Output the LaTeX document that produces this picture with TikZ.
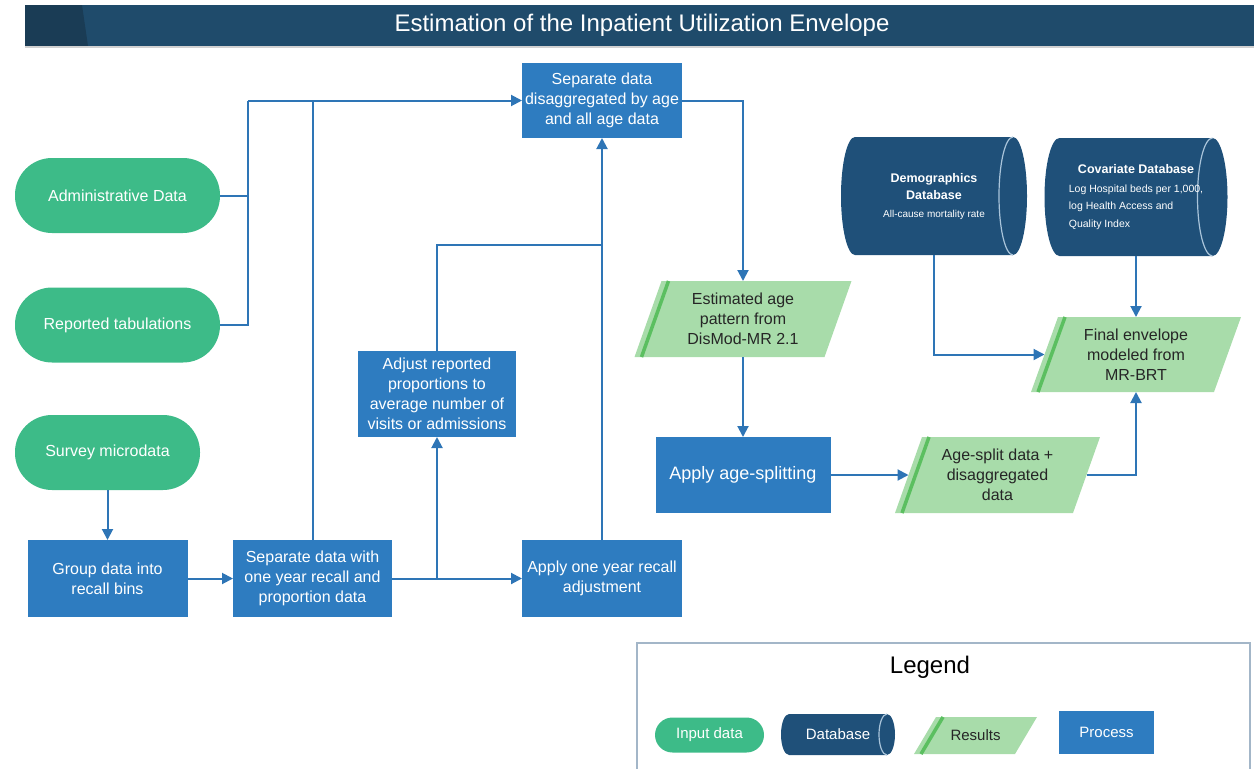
\documentclass[tikz,border=0pt]{standalone}
\usepackage{fontspec}
\setmainfont{Liberation Sans}
\usetikzlibrary{arrows.meta,calc,backgrounds}
\definecolor{navy}{HTML}{1F4B6B}
\definecolor{navyD}{HTML}{1A3C55}
\definecolor{ingreen}{HTML}{3DBB88}
\definecolor{procblue}{HTML}{2E7CC0}
\definecolor{resgreen}{HTML}{A8DCAA}
\definecolor{stripecol}{HTML}{5BBF60}
\definecolor{dbblue}{HTML}{1F5079}
\definecolor{dbline}{HTML}{A9C4DA}
\definecolor{linkblue}{HTML}{2E75B6}
\definecolor{legline}{HTML}{A3B6C8}
\definecolor{restext}{HTML}{262626}

\newcommand\dbshape[3]{%
  \fill[dbblue] (#1.north west) arc[start angle=90,end angle=270,x radius=#2pt,y radius=#3pt]
    -- (#1.south east) arc[start angle=-90,end angle=90,x radius=#2pt,y radius=#3pt] -- cycle;
  \draw[dbline,line width=1.2pt] (#1.north east) arc[start angle=90,end angle=270,x radius=#2pt,y radius=#3pt];}
\newcommand\resshape[2]{%
  \fill[resgreen] ($(#1.south west)+(-#2,0)$) -- ($(#1.south east)+(-#2,0)$)
    -- ($(#1.north east)+(#2,0)$) -- ($(#1.north west)+(#2,0)$) -- cycle;
  \draw[stripecol,line width=3.5pt] ($(#1.south west)+(-#2+7,0)$) -- ($(#1.north west)+(#2+7,0)$);}
\newcommand\dbtitle{\bfseries\fontsize{12.5}{18}\selectfont}
\newcommand\dbsmall{\fontsize{10}{15}\selectfont}
\newcommand\dbbody{\fontsize{10.5}{16}\selectfont}

\begin{document}
\begin{tikzpicture}[x=1pt,y=-1pt,
  every node/.style={inner sep=0pt,outer sep=0pt},
  inbox/.style={fill=ingreen,text=white,rounded corners=37pt,align=center,font=\fontsize{16}{20}\selectfont},
  proc/.style={fill=procblue,text=white,align=center,font=\fontsize{16}{20}\selectfont},
  resbox/.style={text=restext,align=center,font=\fontsize{16}{20}\selectfont},
  dbtext/.style={text=white},
  link/.style={draw=linkblue,line width=2pt},
  arr/.style={link,-{Triangle[length=11pt,width=11pt]}}]
\useasboundingbox (0,0) rectangle (1254,769);

% title bar
\fill[navy] (25,5) rectangle (1254,46);
\fill[navyD] (25,5) -- (82,5) -- (88,46) -- (25,46) -- cycle;
\fill[black!18] (25,46) rectangle (1254,48);
\node[text=white,font=\fontsize{24}{28}\selectfont] (title) at (642,25) {Estimation of the Inpatient Utilization Envelope};

% input data
\node[inbox,minimum width=205pt,minimum height=75pt] (admin) at (117.5,195.5) {Administrative Data};
\node[inbox,minimum width=205pt,minimum height=75pt] (rep) at (117.5,325) {Reported tabulations};
\node[inbox,minimum width=185pt,minimum height=75pt] (survey) at (107.5,452.5) {Survey microdata};

% processes
\node[proc,minimum width=160pt,minimum height=77pt] (group) at (107.5,578.5) {Group data into\\recall bins};
\node[proc,minimum width=159pt,minimum height=77pt] (sep1) at (312.5,578.5) {Separate data with\\one year recall and\\proportion data};
\node[proc,minimum width=160pt,minimum height=77pt] (apply1) at (602,578.5) {Apply one year recall\\adjustment};
\node[proc,minimum width=158pt,minimum height=86pt] (adjust) at (437,394) {Adjust reported\\proportions to\\average number of\\visits or admissions};
\node[proc,minimum width=160pt,minimum height=75pt] (sepdis) at (602,100.5) {Separate data\\disaggregated by age\\and all age data};
\node[proc,minimum width=175pt,minimum height=76pt,font=\fontsize{18}{22}\selectfont] (split) at (743,475) {Apply age-splitting};

% results
\node[resbox,minimum width=190pt,minimum height=76pt] (est) at (743,319) {Estimated age\\pattern from\\DisMod-MR 2.1};
\node[resbox,minimum width=178pt,minimum height=76pt] (agesplit) at (997.5,475) {Age-split data +\\disaggregated\\data};
\node[resbox,minimum width=183pt,minimum height=75pt] (final) at (1136,354.5) {Final envelope\\modeled from\\MR-BRT};

% databases
\node[dbtext,minimum width=158pt,minimum height=118pt] (demo) at (934,196)
  {\fontsize{10}{17.5}\selectfont\begin{tabular}{@{}c@{}}\dbtitle Demographics\\ \dbtitle Database\\ \dbsmall All-cause mortality rate\end{tabular}};
\node[dbtext,minimum width=153pt,minimum height=118pt] (cov) at (1136,197)
  {\fontsize{10.5}{17.5}\selectfont\begin{tabular}{@{}l@{}}\multicolumn{1}{@{}c@{}}{\dbtitle Covariate Database}\\[1pt]
   \dbbody Log Hospital beds per 1,000,\\
   \dbbody log Health Access and\\
   \dbbody Quality Index\end{tabular}};

% legend
\draw[legline,line width=1.5pt] (637,643) rectangle (1250,800);
\node[font=\fontsize{24}{28}\selectfont] (legtitle) at (930,667) {Legend};
\node[inbox,minimum width=109pt,minimum height=35pt,rounded corners=17.5pt,font=\fontsize{15}{18}\selectfont] (lin) at (709.5,735) {Input data};
\node[dbtext,minimum width=98pt,minimum height=41pt,font=\fontsize{15}{18}\selectfont] (ldb) at (838,734.5) {Database};
\node[resbox,minimum width=101pt,minimum height=37pt,font=\fontsize{15}{18}\selectfont] (lres) at (975.5,735.5) {Results};
\node[proc,minimum width=95pt,minimum height=43pt,font=\fontsize{15}{18}\selectfont] (lproc) at (1106.5,732.5) {Process};

\begin{pgfonlayer}{background}
  \resshape{est}{13.5}
  \resshape{agesplit}{13.5}
  \resshape{final}{13.5}
  \resshape{lres}{11}
  \dbshape{demo}{14}{59}
  \dbshape{cov}{15}{59}
  \dbshape{ldb}{8}{20.5}
\end{pgfonlayer}

% connectors
\coordinate (j1) at (248,100.5);
\coordinate (j3) at (602,245);
\draw[link] (admin.east) -| (j1);
\draw[link] (rep.east) -| (j1);
\draw[arr] (j1) -- (sepdis.west);
\draw[link] (sep1.north) -- (sep1.north |- sepdis.west);
\draw[arr] (survey.south) -- (survey.south |- group.north);
\draw[arr] (group.east) -- (sep1.west);
\draw[arr] (sep1.east) -- (apply1.west);
\draw[arr] (adjust.south |- sep1.east) -- (adjust.south);
\draw[link] (adjust.north) |- (j3);
\draw[arr] (apply1.north) -- (sepdis.south);
\draw[arr] (sepdis.east) -| (est.north);
\draw[arr] (est.south) -- (est.south |- split.north);
\draw[arr] (split.east) -- (agesplit.west);
\draw[arr] (agesplit.east) -| (final.south);
\draw[arr] (demo.south) |- (final.west);
\draw[arr] (cov.south) -- (final.north);
\end{tikzpicture}
\end{document}
